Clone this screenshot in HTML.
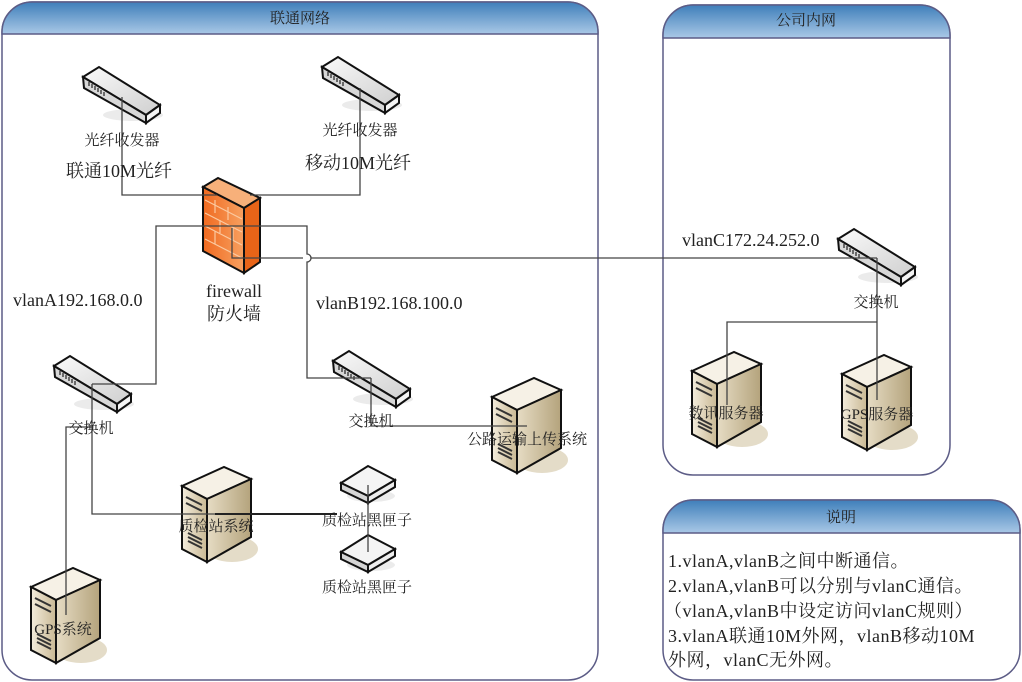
<!DOCTYPE html>
<html><head><meta charset="utf-8"><style>
html,body{margin:0;padding:0;background:#fff}
svg{display:block}
text{font-family:"Liberation Serif","Noto Serif CJK SC",serif;fill:#222}
</style></head><body>
<svg width="1022" height="682" viewBox="0 0 1022 682" xmlns="http://www.w3.org/2000/svg">
<defs>
<linearGradient id="hdr" x1="0" y1="0" x2="0" y2="1"><stop offset="0" stop-color="#3f7fba"/><stop offset="1" stop-color="#a9c8e6"/></linearGradient>
<linearGradient id="sw" x1="0" y1="0" x2="1" y2="1"><stop offset="0" stop-color="#fafafa"/><stop offset="1" stop-color="#cfcfcf"/></linearGradient>
<linearGradient id="sf" x1="0" y1="0" x2="1" y2="0"><stop offset="0" stop-color="#f3ecdc"/><stop offset="1" stop-color="#c9b994"/></linearGradient>
<linearGradient id="ss" x1="0" y1="0" x2="1" y2="0"><stop offset="0" stop-color="#e6dcc4"/><stop offset="1" stop-color="#b4a37c"/></linearGradient>
<linearGradient id="fw" x1="0" y1="0" x2="1" y2="0"><stop offset="0" stop-color="#f06a20"/><stop offset="1" stop-color="#f7a060"/></linearGradient>
<g id="switch">
<ellipse cx="50" cy="48" rx="30" ry="6" fill="#ddd" opacity="0.6"/>
<polygon points="0,10 16,0 77,38 63,48" fill="url(#sw)" stroke="#111" stroke-width="2"/>
<polygon points="0,10 63,48 63,56 1,21" fill="#d8d8d8" stroke="#111" stroke-width="2"/>
<polygon points="63,48 77,38 77,46 63,56" fill="#f4f4f4" stroke="#111" stroke-width="2"/>
<path d="M6,15v4M9,17v4M12,19v4M15,21v4M18,23v4M21,25v4" stroke="#444" stroke-width="1.5"/>
</g>
<g id="server">
<ellipse cx="50" cy="82" rx="26" ry="13" fill="#e4dcc8"/>
<polygon points="0,19 42,0 69,12 25,32" fill="#f6f1e6" stroke="#111" stroke-width="2"/>
<polygon points="0,19 25,32 25,95 0,82" fill="url(#sf)" stroke="#111" stroke-width="2"/>
<polygon points="25,32 69,12 69,70 25,95" fill="url(#ss)" stroke="#111" stroke-width="2"/>
<path d="M4,30l16,8M4,36l16,8M6,66l14,7M6,70l14,7M6,74l14,7" stroke="#333" stroke-width="2"/>
</g>
<g id="box">
<ellipse cx="30" cy="30" rx="24" ry="6" fill="#ddd" opacity="0.6"/>
<polygon points="0,17 27,0 54,14 27,30" fill="#f4f4f4" stroke="#111" stroke-width="2"/>
<polygon points="0,17 27,30 27,37 0,24" fill="#d5d5d5" stroke="#111" stroke-width="2"/>
<polygon points="27,30 54,14 54,21 27,37" fill="#eee" stroke="#111" stroke-width="2"/>
</g>
</defs>

<path d="M32,2 H568 A30,30 0 0 1 598,32 V650 A30,30 0 0 1 568,680 H32 A30,30 0 0 1 2,650 V32 A30,30 0 0 1 32,2Z" fill="#fff" stroke="#5c5c86" stroke-width="1.5"/>
<path d="M32,2 H568 A30,30 0 0 1 598,32 V34 H2 V32 A30,30 0 0 1 32,2Z" fill="url(#hdr)" stroke="#5c5c86" stroke-width="1.5"/>
<text x="300" y="23" font-size="15" text-anchor="middle">联通网络</text>

<path d="M693,5 H920 A30,30 0 0 1 950,35 V445 A30,30 0 0 1 920,475 H693 A30,30 0 0 1 663,445 V35 A30,30 0 0 1 693,5Z" fill="#fff" stroke="#5c5c86" stroke-width="1.5"/>
<path d="M693,5 H920 A30,30 0 0 1 950,35 V38 H663 V35 A30,30 0 0 1 693,5Z" fill="url(#hdr)" stroke="#5c5c86" stroke-width="1.5"/>
<text x="806" y="25" font-size="15" text-anchor="middle">公司内网</text>

<path d="M693,500 H990 A30,30 0 0 1 1020,530 V650 A30,30 0 0 1 990,680 H693 A30,30 0 0 1 663,650 V530 A30,30 0 0 1 693,500Z" fill="#fff" stroke="#5c5c86" stroke-width="1.5"/>
<path d="M693,500 H990 A30,30 0 0 1 1020,530 V533 H663 V530 A30,30 0 0 1 693,500Z" fill="url(#hdr)" stroke="#5c5c86" stroke-width="1.5"/>
<text x="841" y="522" font-size="15" text-anchor="middle">说明</text>
<g font-size="18" letter-spacing="0.5">
<text x="668" y="567">1.vlanA,vlanB之间中断通信。</text>
<text x="668" y="592">2.vlanA,vlanB可以分别与vlanC通信。</text>
<text x="664" y="617">（vlanA,vlanB中设定访问vlanC规则）</text>
<text x="668" y="642">3.vlanA联通10M外网，vlanB移动10M</text>
<text x="668" y="666">外网，vlanC无外网。</text>
</g>

<use href="#switch" x="83" y="67"/>
<use href="#switch" x="322" y="57"/>
<use href="#switch" x="54" y="356"/>
<use href="#switch" x="333" y="351"/>
<use href="#switch" x="838" y="229"/>
<use href="#server" x="492" y="378"/>
<use href="#server" x="182" y="467"/>
<use href="#server" x="31" y="568"/>
<use href="#server" x="692" y="352"/>
<use href="#server" x="842" y="355"/>
<use href="#box" x="341" y="466"/>
<use href="#box" x="341" y="535"/>

<polygon points="203,187 218,178 260,198 244,208" fill="#f7b07a" stroke="#111" stroke-width="2"/>
<polygon points="203,187 244,208 244,273 203,251" fill="url(#fw)" stroke="#111" stroke-width="2"/>
<polygon points="244,208 260,198 260,262 244,273" fill="#e86418" stroke="#111" stroke-width="2"/>
<path d="M205,200l37,19M205,213l37,19M205,226l37,19M205,239l37,19M215,200v13M228,207v13M220,220v13M233,227v13M215,231v13" stroke="#fbc9a0" stroke-width="1.2"/>

<g fill="none" stroke="#444" stroke-width="1.3">
<path d="M122,97V195H217"/>
<path d="M360,88V195H250"/>
<path d="M92,384H156V226H307V254a4,4 0 0 1 0,8V378H371"/>
<path d="M232,228V258H303M311,258H877"/>
<path d="M877,258V400"/>
<path d="M727,405V322H877"/>
<path d="M92,384V514H337"/>
<path d="M371,378V426H527"/>
<path d="M92,427H66V615"/>
<path d="M368,485V552"/>
</g>
<path d="M215,514H337" stroke="#222" stroke-width="2"/>

<g font-size="15" text-anchor="middle" fill="#222">
<text x="122" y="145">光纤收发器</text>
<text x="360" y="135">光纤收发器</text>
<text x="91" y="433">交换机</text>
<text x="371" y="426">交换机</text>
<text x="876" y="307">交换机</text>
<text x="527" y="444">公路运输上传系统</text>
<text x="216" y="531">质检站系统</text>
<text x="63" y="634">GPS系统</text>
<text x="367" y="525">质检站黑匣子</text>
<text x="367" y="592">质检站黑匣子</text>
<text x="726" y="418">数讯服务器</text>
<text x="877" y="419">GPS服务器</text>
</g>
<g font-size="18">
<text x="119" y="177" text-anchor="middle">联通10M光纤</text>
<text x="358" y="169" text-anchor="middle">移动10M光纤</text>
<text x="234" y="297" text-anchor="middle">firewall</text>
<text x="234" y="320" text-anchor="middle">防火墙</text>
<text x="13" y="306">vlanA192.168.0.0</text>
<text x="316" y="309">vlanB192.168.100.0</text>
<text x="682" y="246">vlanC172.24.252.0</text>
</g>
</svg>
</body></html>
